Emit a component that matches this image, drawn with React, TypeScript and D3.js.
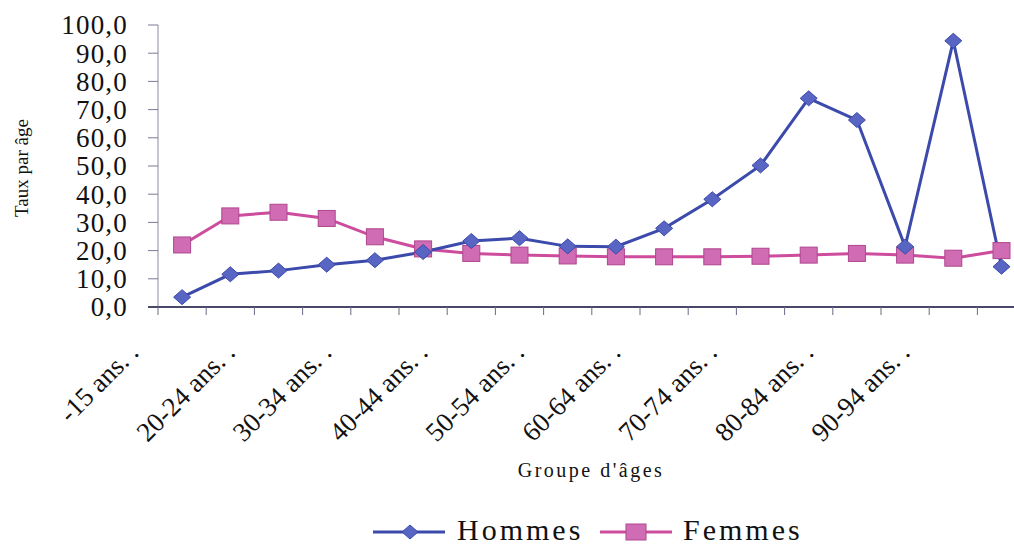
import React from "react";
import * as d3 from "d3";

const categories = [
  "-15", "15-19", "20-24", "25-29", "30-34", "35-39", "40-44", "45-49", "50-54",
  "55-59", "60-64", "65-69", "70-74", "75-79", "80-84", "85-89", "90-94", "95-99",
];
const hommes = [3.5, 11.6, 12.9, 15.0, 16.6, 19.5, 23.4, 24.4, 21.5, 21.4, 27.9, 38.2, 50.2, 74.0, 66.3, 21.4, 94.4, 14.3];
const femmes = [22.0, 32.3, 33.6, 31.4, 24.9, 20.6, 19.0, 18.4, 18.1, 17.8, 17.8, 17.8, 18.0, 18.4, 19.0, 18.4, 17.3, 20.0];
const yTicks = [0, 10, 20, 30, 40, 50, 60, 70, 80, 90, 100];

const W = 1014;
const H = 547;
const FONT = "'Liberation Serif', 'DejaVu Serif', serif";
const HCOL = "#3c4aab";
const HFILL = "#5865c2";
const FCOL = "#cd4c9d";
const FFILL = "#cf6cb4";

export default function App() {
  const x = d3.scaleBand<string>().domain(categories).range([158, 158 + 18 * 48.2]).padding(0);
  const y = d3.scaleLinear().domain([0, 100]).range([307, 25]);
  const cx = (c: string) => (x(c) as number) + x.bandwidth() / 2;

  const line = d3
    .line<number>()
    .x((_, i) => cx(categories[i]))
    .y((d) => y(d));

  const diamond = (px: number, py: number, w = 8.5, h = 7.5) =>
    `M${px},${py - h}L${px + w},${py}L${px},${py + h}L${px - w},${py}Z`;

  const boundaries = d3.range(categories.length + 1).map((i) => 158 + i * x.bandwidth());

  return (
    <svg
      width={W}
      height={H}
      style={{ position: "absolute", left: 0, top: 0, background: "#fff" }}
      fontFamily={FONT}
    >
      {/* y axis */}
      <line x1={158} x2={158} y1={y(100)} y2={y(0)} stroke="#8a8aa8" strokeWidth={1} />
      {yTicks.map((t) => (
        <g key={t}>
          <line x1={148} x2={158} y1={y(t)} y2={y(t)} stroke="#7a7a95" strokeWidth={1} />
          <text x={128} y={y(t)} dy="0.35em" textAnchor="end" fontSize={27} letterSpacing={1.2} fill="#111">
            {t.toFixed(1).replace(".", ",")}
          </text>
        </g>
      ))}
      {/* x axis */}
      <line x1={148} x2={W} y1={y(0)} y2={y(0)} stroke="#4a4868" strokeWidth={2} />
      {boundaries.map((b, i) => (
        <line key={i} x1={b} x2={b} y1={y(0)} y2={y(0) + 8} stroke="#6a6a85" strokeWidth={1} />
      ))}
      {categories.map((c, i) =>
        i % 2 === 0 ? (
          <text
            key={c}
            transform={`translate(${cx(c) - 42},${354}) rotate(-45)`}
            textAnchor="end"
            fontSize={27}
            fill="#111"
          >
            {`${c} ans. .`}
          </text>
        ) : null
      )}

      {/* series */}
      <path d={line(femmes) || ""} fill="none" stroke={FCOL} strokeWidth={3} />
      <path d={line(hommes) || ""} fill="none" stroke={HCOL} strokeWidth={3} />
      {femmes.map((v, i) => (
        <rect
          key={"f" + i}
          x={cx(categories[i]) - 8.5}
          y={y(v) - 8}
          width={17}
          height={16}
          fill={FFILL}
          stroke="#b0468e"
          strokeWidth={1}
        />
      ))}
      {hommes.map((v, i) => (
        <path key={"h" + i} d={diamond(cx(categories[i]), y(v))} fill={HFILL} stroke={HCOL} strokeWidth={1} />
      ))}

      {/* axis titles */}
      <text transform="translate(28,168) rotate(-90)" textAnchor="middle" fontSize={19} fill="#111">
        Taux par âge
      </text>
      <text x={591} y={477} textAnchor="middle" fontSize={20} letterSpacing={2.5} fill="#111">
        Groupe d'âges
      </text>

      {/* legend */}
      <line x1={373} x2={445} y1={532} y2={532} stroke={HCOL} strokeWidth={3} />
      <path d={diamond(410, 532, 8, 7)} fill={HFILL} stroke={HCOL} strokeWidth={1} />
      <text x={457} y={540} fontSize={30} letterSpacing={3} fill="#111">
        Hommes
      </text>
      <line x1={600} x2={672} y1={532} y2={532} stroke={FCOL} strokeWidth={3} />
      <rect x={626} y={524} width={20} height={16} fill={FFILL} stroke="#b0468e" strokeWidth={1} />
      <text x={683} y={540} fontSize={30} letterSpacing={3} fill="#111">
        Femmes
      </text>
    </svg>
  );
}
